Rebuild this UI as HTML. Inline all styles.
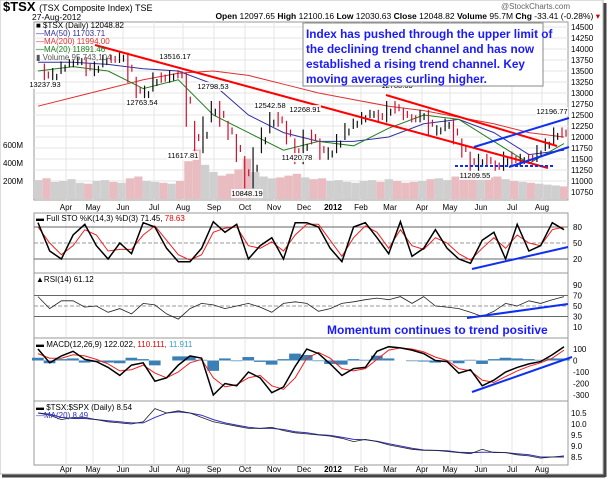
<!DOCTYPE html>
<html><head><meta charset="utf-8"><style>
body{margin:0;background:#fff;}
svg{display:block;font-family:"Liberation Sans",sans-serif;}
</style></head><body>
<svg id="c" width="609" height="479" viewBox="0 0 609 479">
<rect x="0" y="0" width="603" height="474" fill="#fff" stroke="#bbb"/>
<line x1="2" y1="476" x2="605" y2="476" stroke="#444" stroke-width="3"/>
<line x1="605" y1="3" x2="605" y2="477" stroke="#444" stroke-width="3"/>
<text x="3" y="11" font-size="13" font-weight="bold">$TSX <tspan font-size="9" font-weight="normal">(TSX Composite Index) TSE</tspan></text>
<text x="32" y="20" font-size="8.5">27-Aug-2012</text>
<text x="570" y="9" font-size="8" fill="#666" text-anchor="end">@StockCharts.com</text>
<text x="600" y="19" font-size="8.5" text-anchor="end"><tspan font-weight="bold">Open</tspan> 12097.65 <tspan font-weight="bold">High</tspan> 12100.16 <tspan font-weight="bold">Low</tspan> 12030.63 <tspan font-weight="bold">Close</tspan> 12048.82 <tspan font-weight="bold">Volume</tspan> 95.7M <tspan font-weight="bold">Chg</tspan> -33.41 (-0.28%) <tspan fill="#c00">▾</tspan></text>
<g id="g"></g>
</svg>
<script>
// ----- data -----
const months=["Apr","May","Jun","Jul","Aug","Sep","Oct","Nov","Dec","2012","Feb","Mar","Apr","May","Jun","Jul","Aug"];
const monthX=[66,93,123,154,183,214,245,274,304,333,361,390,422,450,481,512,542];
const priceTicks=[14500,14250,14000,13750,13500,13250,13000,12750,12500,12250,12000,11750,11500,11250,11000,10750];
const price=[13600,13237,13500,13650,13700,13750,13450,13650,13800,13750,13850,13300,12850,13100,13400,13300,13450,13400,12300,11700,12400,12750,12300,12000,11500,10900,11700,12150,12500,12300,11900,11450,12100,11900,11550,11700,12000,12250,12350,12500,12550,12400,12750,12600,12450,12400,12550,12100,12200,12350,11900,11600,11300,11550,11400,11300,11600,11400,11550,11500,11750,11900,12150,12050];
const ma200=[12700,12900,13100,13300,13450,13500,13400,13200,13000,12850,12700,12600,12450,12300,12100,12000];
const ma50=[13700,13700,13650,13550,13500,13200,12500,12100,11900,11900,12000,12300,12400,12100,11600,11700];
const ma20=[13500,13600,13500,13100,13300,12500,12100,11700,11900,11800,12200,12500,12400,11900,11400,11850];
const volume=[210,230,190,200,220,180,170,200,210,190,180,230,250,200,190,180,170,200,420,550,380,300,260,280,330,450,300,250,230,240,260,280,240,220,230,200,210,190,180,200,210,190,220,200,180,190,200,220,230,210,250,300,280,260,240,250,220,200,190,180,170,160,150,140];
const stoK=[88,35,20,65,85,45,20,50,30,88,80,40,15,15,40,90,70,85,20,45,60,20,88,88,80,40,15,80,88,60,30,90,25,40,75,40,20,12,55,70,20,85,35,45,88,75];
const stoD=[80,50,28,45,75,65,35,38,38,65,82,55,28,18,28,70,78,80,45,40,52,35,65,85,85,55,25,60,82,70,40,75,45,38,60,50,30,18,40,60,40,65,50,45,75,80];
const rsi=[68,45,60,60,48,50,38,45,35,55,52,35,25,45,55,52,45,50,55,48,38,55,58,55,40,45,55,58,62,65,62,68,55,68,50,48,45,38,30,40,55,50,60,55,62,68];
const macd=[100,-20,40,80,10,-10,-60,-130,-40,-20,-180,-150,-40,40,20,-300,-200,-220,-100,-150,-280,-230,-50,100,60,-30,-130,-70,-60,80,120,110,90,60,0,-10,-110,-80,-220,-170,-100,-60,-30,-10,50,120];
const signal=[60,20,20,50,40,10,-30,-90,-80,-40,-110,-150,-100,-20,10,-150,-230,-210,-150,-130,-220,-250,-150,20,70,20,-70,-90,-70,10,90,110,100,75,30,0,-70,-90,-170,-190,-140,-90,-50,-20,20,90];
const ratio=[10.5,10.4,10.2,10.3,10.3,10.2,10.1,10.05,10.0,10.1,10.7,10.5,10.6,10.5,10.3,10.1,10.0,9.9,9.8,9.8,9.85,9.7,9.6,9.55,9.5,9.45,9.35,9.2,9.3,9.2,9.05,8.95,8.85,8.8,8.8,8.75,8.7,8.65,8.85,8.7,8.7,8.6,8.55,8.45,8.5,8.55];
const ratioMa=[10.5,10.45,10.3,10.25,10.25,10.2,10.15,10.1,10.05,10.05,10.3,10.5,10.55,10.5,10.4,10.2,10.05,9.95,9.85,9.8,9.8,9.75,9.65,9.6,9.52,9.48,9.4,9.3,9.28,9.22,9.1,9.0,8.9,8.82,8.8,8.78,8.72,8.7,8.72,8.72,8.7,8.65,8.6,8.5,8.5,8.5];
// ----- helpers -----
const NS="http://www.w3.org/2000/svg";
const G=document.getElementById('g');
const L=34,R=568,XS=38,XE=564;
function mk(t,a,p){const e=document.createElementNS(NS,t);for(const k in a)e.setAttribute(k,a[k]);(p||G).appendChild(e);return e;}
function xi(i,n){return XS+(XE-XS)*i/(n-1);}
function lin(v0,y0,v1,y1){return v=>y0+(v-v0)*(y1-y0)/(v1-v0);}
const yP=lin(14500,27,10750,192);
const yV=lin(0,199,200,181);
const yS=lin(80,227,20,259);
const yR=lin(90,285,10,327);
const yM=lin(100,349,-300,395);
const yQ=lin(10.5,413,8.5,457);
function path(arr,ys){return arr.map((v,i)=>(i?'L':'M')+xi(i,arr.length).toFixed(1)+' '+ys(v).toFixed(1)).join(' ');}
function panel(name,y0,y1){const r=mk('rect',{x:L,y:y0,width:R-L,height:y1-y0,fill:'#fff',stroke:'#999'});
 monthX.forEach(x=>{const l=mk('line',{x1:x,y1:y0,x2:x,y2:y1,stroke:'#e4e4e4'});});}
function hgrid(vals,ys,x0,label){vals.forEach(v=>{const y=ys(v);const l=mk('line',{x1:L,y1:y,x2:R,y2:y,stroke:'#e4e4e4'});
 if(label){const t=mk('text',{x:571,y:y+3,'font-size':8});t.textContent=v;}});}
function line(arr,ys,col,w,name){const p=mk('path',{d:path(arr,ys),fill:'none',stroke:col,'stroke-width':w});return p;}
function txt(x,y,s,attrs,name){const t=mk('text',Object.assign({x:x,y:y,'font-size':8},attrs||{}));t.textContent=s;return t;}
function monthLabels(y){months.forEach((m,i)=>{txt(monthX[i],y,m,{'text-anchor':'middle','font-weight':m==='2012'?'bold':'normal'},'x-month-label');});}

// ----- price panel -----
panel('price-panel',22,200);
hgrid(priceTicks,yP,0,true);
volume.forEach((v,i)=>{const x=xi(i,volume.length);const up=i===0||price[i]>=price[i-1];const b=mk('rect',{x:x-4,y:yV(v),width:8.3,height:199-yV(v),fill:up?'#cfcfcf':'#e8bcc0'});});
[[600,'600M'],[400,'400M'],[200,'200M']].forEach(a=>txt(3,yV(a[0])+3,a[1],{},'volume-tick-label'));
line(ma200,yP,'#e03030',1,'ma200-line');
line(ma50,yP,'#3030a0',1,'ma50-line');
line(ma20,yP,'#208020',1,'ma20-line');
price.forEach((v,i)=>{if(!i)return;const x=xi(i,price.length);const up=v>=price[i-1];const t=Math.min(yP(v),yP(price[i-1])),bt=Math.max(yP(v),yP(price[i-1]));const b=mk('line',{x1:x-2,y1:t-3,x2:x-2,y2:bt+3,stroke:up?'#111':'#d01030','stroke-width':1.2});
 const b2=mk('line',{x1:x+2,y1:(t+bt)/2-3,x2:x+2,y2:(t+bt)/2+4,stroke:up?'#111':'#d01030','stroke-width':1.2});});
// trend lines
[[95,45,548,168,'#f00',2,'declining-channel-lower'],[386,95,557,146,'#f00',2,'declining-channel-upper'],[509,167,569,147,'#1030f0',2,'rising-channel-lower'],[474,147,569,118,'#1030f0',2,'rising-channel-upper']].forEach(a=>{const l=mk('line',{x1:a[0],y1:a[1],x2:a[2],y2:a[3],stroke:a[4],'stroke-width':a[5]});});
const dl=mk('line',{x1:455,y1:166,x2:553,y2:166,stroke:'#1030f0','stroke-width':2,'stroke-dasharray':'3,2'});
[[45,87,'13237.93'],[142,105,'12763.54'],[175,59,'13516.17'],[213,89,'12798.53'],[183,158,'11617.81'],[270,108,'12542.58'],[305,112,'12268.91'],[297,160,'11420.78'],[247,196,'10848.19'],[397,88,'12788.63'],[475,178,'11209.55'],[552,114,'12196.77']].forEach(a=>{const r=mk('rect',{x:a[0]-16,y:a[1]-7,width:32,height:9,fill:'#fff',opacity:0.85});txt(a[0],a[1],a[2],{'text-anchor':'middle','font-size':7.5},'price-callout');});
// legend
txt(36,28,'■ $TSX (Daily) 12048.82',{},'legend-price');
txt(36,36,'—MA(50) 11703.71',{fill:'#3030a0'},'legend-ma50');
txt(36,44,'—MA(200) 11994.00',{fill:'#e03030'},'legend-ma200');
txt(36,52,'—MA(20) 11891.46',{fill:'#208020'},'legend-ma20');
txt(36,60,'▮ Volume 95,743,104',{fill:'#555'},'legend-volume');
// annotation box
const ab=mk('rect',{x:303,y:23,width:240,height:63,fill:'#fff',stroke:'#888'});
['Index has pushed through the upper limit of','the declining trend channel and has now','established a rising trend channel.   Key','moving averages curling higher.'].forEach((s,i)=>txt(306,38+i*15,s,{'font-size':11.8,'font-weight':'bold',fill:'#1a1aff'},'annotation-line'));
monthLabels(210);

// ----- STO -----
panel('sto-panel',213,273);
[80,50,20].forEach(v=>{const l=mk('line',{x1:L,y1:yS(v),x2:R,y2:yS(v),stroke:v===50?'#999':'#666','stroke-dasharray':v===50?'4,2':'none'});txt(573,yS(v)+3,v,{},'sto-tick-label');});
line(stoD,yS,'#f02020',1,'sto-d-line');
line(stoK,yS,'#000',1.5,'sto-k-line');
const sl=mk('line',{x1:472,y1:269,x2:568,y2:247,stroke:'#1030f0','stroke-width':2});
const st=txt(36,221,'▬ Full STO %K(14,3) %D(3) 71.45, ',{},'sto-legend');
const st1=document.createElementNS(NS,'tspan');st1.textContent='78.63';st1.setAttribute('fill','#e00');st.appendChild(st1);

// ----- RSI -----
panel('rsi-panel',273,338);
[70,50,30].forEach(v=>{const l=mk('line',{x1:L,y1:yR(v),x2:R,y2:yR(v),stroke:v===50?'#999':'#666','stroke-dasharray':v===50?'4,2':'none'});});
[90,70,50,30,10].forEach(v=>txt(573,yR(v)+3,v,{},'rsi-tick-label'));
line(rsi,yR,'#222',0.8,'rsi-line');
const rl=mk('line',{x1:467,y1:318,x2:568,y2:304,stroke:'#1030f0','stroke-width':2});
txt(36,282,'▲RSI(14) 61.12',{},'rsi-legend');
txt(327,334,'Momentum continues to trend positive',{'font-size':12,'font-weight':'bold',fill:'#1a1aff'},'momentum-annotation');

// ----- MACD -----
panel('macd-panel',338,401);
[100,0,-100,-200,-300].forEach(v=>txt(573,yM(v)+3,v,{},'macd-tick-label'));
macd.forEach((v,i)=>{const h=(v-signal[i])*0.6;const x=xi(i,macd.length);const y=Math.min(yM(h),yM(0));const b=mk('rect',{x:x-6,y:y,width:11.7,height:Math.abs(yM(h)-yM(0)),fill:'#3a7fb5'});});
line(signal,yM,'#f02020',1,'macd-signal-line');
line(macd,yM,'#000',1.5,'macd-line');
const ml=mk('line',{x1:472,y1:392,x2:572,y2:357,stroke:'#1030f0','stroke-width':2});
const mt=txt(36,347,'▬ MACD(12,26,9) 122.022, ',{},'macd-legend');
const t1=document.createElementNS(NS,'tspan');t1.textContent='110.111, ';t1.setAttribute('fill','#e00');mt.appendChild(t1);
const t2=document.createElementNS(NS,'tspan');t2.textContent='11.911';t2.setAttribute('fill','#39c');mt.appendChild(t2);

// ----- Ratio -----
panel('ratio-panel',401,465);
[10.5,10.0,9.5,9.0,8.5].forEach(v=>txt(571,yQ(v)+3,v.toFixed(1),{},'ratio-tick-label'));
line(ratioMa,yQ,'#3030c0',1,'ratio-ma-line');
line(ratio,yQ,'#222',0.8,'ratio-line');
txt(36,410,'▬ $TSX:$SPX (Daily) 8.54',{},'ratio-legend');
txt(36,418,'—MA(20) 8.49',{fill:'#3030c0'},'ratio-ma-legend');
monthLabels(472);
</script>
</body></html>
